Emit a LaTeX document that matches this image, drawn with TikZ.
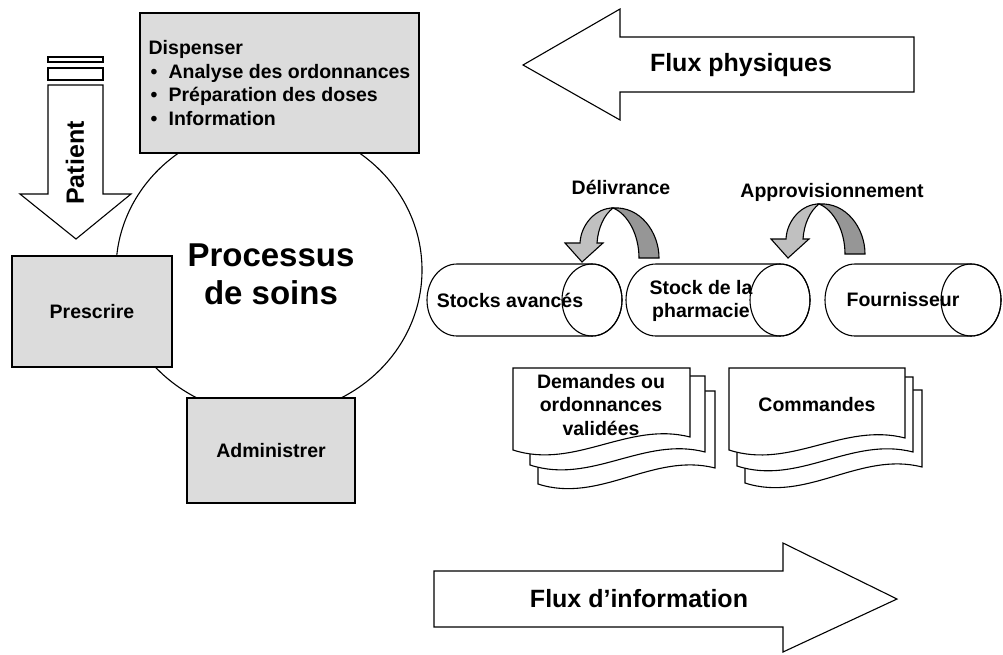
\documentclass[tikz,border=0pt]{standalone}
\usepackage{fontspec}
\setmainfont{Liberation Sans}
\usepackage{tikz}
\definecolor{boxgray}{HTML}{DCDCDC}
\definecolor{arrowlight}{HTML}{C0C0C0}
\definecolor{arrowdark}{HTML}{969696}
\newcommand{\puce}{\makebox[20pt][l]{\hspace{2pt}\textbullet}}

\begin{document}
\begin{tikzpicture}[x=1pt,y=-1pt,line width=1.1pt,
  every node/.style={inner sep=0pt,font=\bfseries\fontsize{19.5}{23.5}\selectfont},
  tache/.style={draw,fill=boxgray,align=center},
  bigtext/.style={font=\bfseries\fontsize{25}{30}\selectfont},
  flux/.style={draw,fill=white},
  page/.style={draw,fill=white}]
\useasboundingbox (0,0) rectangle (1003,654);
% processus de soins
\draw (269,270) ellipse [x radius=153, y radius=145];
\node[font=\bfseries\fontsize{33}{38}\selectfont,align=center] (proc) at (271,274) {Processus\\de soins};
\node[tache,minimum width=279,minimum height=140,align=left] (disp) at (279.5,83)
  {Dispenser\\\puce Analyse des ordonnances\\\puce Préparation des doses\\\puce Information};
\node[tache,minimum width=160,minimum height=111] (presc) at (92,311.5) {Prescrire};
\node[tache,minimum width=168,minimum height=105] (admin) at (271,450.5) {Administrer};
% patient
\draw[flux] (48,57) rectangle (103,62);
\draw[flux] (48,68) rectangle (103,80);
\draw[flux] (48,85) -- (103,85) -- (103,194) -- (131,194) -- (76,239) -- (20,194) -- (48,194) -- cycle;
\node[bigtext,rotate=90] (patient) at (75,163) {Patient};
% flux physiques / flux d'information
\draw[flux] (914,37) -- (620,37) -- (620,9) -- (523,65) -- (620,120) -- (620,92) -- (914,92) -- cycle;
\node[bigtext] (fphys) at (741,65) {Flux physiques};
\draw[flux] (434,571) -- (783,571) -- (783,543) -- (897,599) -- (783,652) -- (783,627) -- (434,627) -- cycle;
\node[bigtext] (finfo) at (639,599) {Flux d’information};
% stocks
\foreach \l/\r in {427/622,626/810,825/1001}{
  \draw ({\l+30},264) -- ({\r-30},264) arc[start angle=-90,end angle=90,x radius=30,y radius=36]
    -- ({\l+30},336) arc[start angle=90,end angle=270,x radius=30,y radius=36];
  \draw ({\r-30},300) ellipse [x radius=30, y radius=36];
}
\node (sa) at (510,300) {Stocks avancés};
\node[align=center] (sp) at (701,301) {Stock de la\\pharmacie};
\node (fo) at (903,300) {Fournisseur};
% delivrance, approvisionnement
\foreach \dx/\dy in {0/0,206/-4}{
  \begin{scope}[shift={(\dx,\dy)}]
    \draw[fill=arrowdark] (613,208) .. controls (640,206) and (659,232) .. (659,258) -- (639,258)
      .. controls (639,235) and (628,214) .. (613,208) -- cycle;
    \draw[fill=arrowlight] (613,208) .. controls (596,208) and (581,224) .. (580,243) -- (565,243)
      -- (582,262) -- (603,243) -- (597,243) .. controls (598,228) and (604,215) .. (613,208) -- cycle;
  \end{scope}
}
\node (deliv) at (621,187) {Délivrance};
\node (appro) at (832,192) {Approvisionnement};
% demandes, commandes
\foreach \l/\r/\t/\bl/\br in {538/715/391/484/468,530/705/376/465/452,513/690/368/450/437,
    745/922/390/483/467,737/913/377/466/452,729/905/368/450/438}
  \draw[page] (\l,\t) -- (\r,\t) -- (\r,\br) .. controls ({\r-0.35*(\r-\l)},{\br-16})
    and ({\l+0.35*(\r-\l)},{\bl+20}) .. (\l,\bl) -- cycle;
\node[align=center] (dem) at (601,405) {Demandes ou\\ordonnances\\validées};
\node (cmd) at (817,405) {Commandes};
\end{tikzpicture}
\end{document}
